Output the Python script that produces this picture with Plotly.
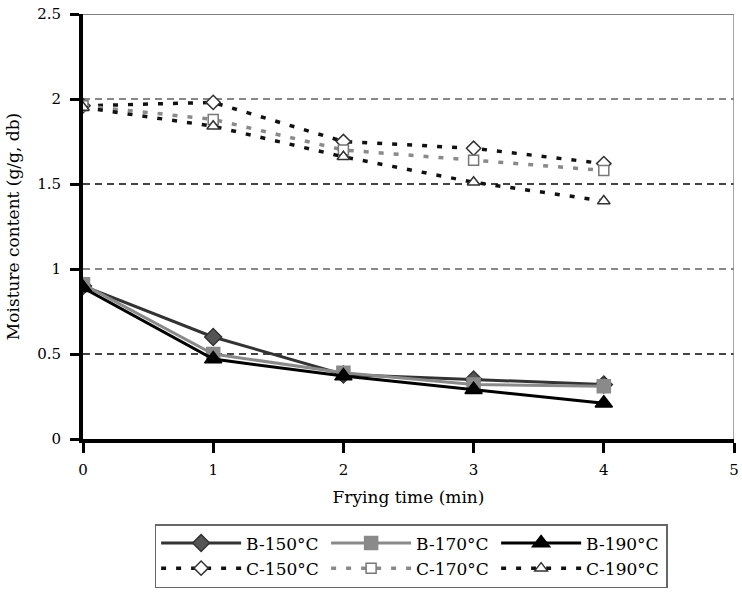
import plotly.graph_objects as go

time_min = [0, 1, 2, 3, 4]
b150 = [0.90, 0.60, 0.38, 0.35, 0.32]
b170 = [0.91, 0.50, 0.39, 0.32, 0.31]
b190 = [0.89, 0.47, 0.37, 0.29, 0.21]
c150 = [1.96, 1.98, 1.75, 1.71, 1.62]
c170 = [1.96, 1.88, 1.70, 1.64, 1.58]
c190 = [1.95, 1.84, 1.66, 1.51, 1.40]

y_ticks = [0, 0.5, 1, 1.5, 2, 2.5]
y_tick_labels = ["0", "0.5", "1", "1.5", "2", "2.5"]
x_ticks = [0, 1, 2, 3, 4, 5]

FONT = "DejaVu Serif, Liberation Serif, serif"

fig = go.Figure()

def add(name, y, color, dash, width, symbol, msize, mfill, mline):
    fig.add_trace(go.Scatter(
        x=time_min, y=y, name=name, mode="lines+markers",
        line=dict(color=color, width=width, dash=dash),
        marker=dict(symbol=symbol, size=msize, color=mfill,
                    line=dict(color=mline, width=1.5)),
    ))

add("B-150°C", b150, "#333333", "solid", 3, "diamond", 13, "#555555", "#333333")
add("B-170°C", b170, "#8a8a8a", "solid", 3, "square", 13, "#8a8a8a", "#8a8a8a")
add("B-190°C", b190, "#000000", "solid", 3, "triangle-up", 15, "#000000", "#000000")
add("C-150°C", c150, "#111111", "5px,10px", 3.5, "diamond", 11, "#ffffff", "#333333")
add("C-170°C", c170, "#8a8a8a", "5px,10px", 3.5, "square", 10, "#ffffff", "#777777")
add("C-190°C", c190, "#111111", "5px,10px", 3.5, "triangle-up", 11, "#ffffff", "#333333")

shapes = []
grid_levels = [0.5, 1.0, 1.5, 2.0]
grid_colors = ["#444444", "#888888", "#444444", "#888888"]
for lvl, col in zip(grid_levels, grid_colors):
    shapes.append(dict(type="line", xref="x", yref="y", x0=0, x1=5, y0=lvl, y1=lvl,
                       line=dict(color=col, width=1.8, dash="7px,5px"), layer="below"))
shapes.append(dict(type="line", xref="x", yref="y", x0=0, x1=5, y0=2.5, y1=2.5,
                   line=dict(color="#555555", width=1.5), layer="below"))
shapes.append(dict(type="line", xref="x", yref="y", x0=5, x1=5, y0=0, y1=2.5,
                   line=dict(color="#888888", width=1.5), layer="below"))

fig.update_layout(
    width=742, height=596,
    margin=dict(l=83, r=3, t=14, b=157),
    paper_bgcolor="white", plot_bgcolor="white",
    font=dict(family=FONT, size=15, color="black"),
    shapes=shapes,
    showlegend=True,
    legend=dict(
        orientation="h", x=0.11, y=-0.2, xanchor="left", yanchor="top",
        entrywidth=75, entrywidthmode="pixels",
        bordercolor="#666666", borderwidth=1.5,
        font=dict(family=FONT, size=17, color="black"),
        itemwidth=80,
    ),
    xaxis=dict(
        range=[0, 5], tickvals=x_ticks, showgrid=False, zeroline=False,
        showline=True, linecolor="black", linewidth=4,
        ticks="outside", ticklen=10, tickwidth=3, tickcolor="black",
        ticklabelstandoff=4, ticklabeloverflow="allow",
        tickfont=dict(family=FONT, size=15),
        title=dict(text="Frying time (min)", font=dict(family=FONT, size=17), standoff=14),
    ),
    yaxis=dict(
        range=[0, 2.5], tickvals=y_ticks, ticktext=y_tick_labels,
        showgrid=False, zeroline=False,
        showline=True, linecolor="black", linewidth=4,
        ticks="outside", ticklen=9, tickwidth=3, tickcolor="black",
        ticklabelstandoff=6,
        tickfont=dict(family=FONT, size=15),
        title=dict(text="Moisture content (g/g, db)", font=dict(family=FONT, size=17), standoff=14),
    ),
)

fig.write_html("out.html")
